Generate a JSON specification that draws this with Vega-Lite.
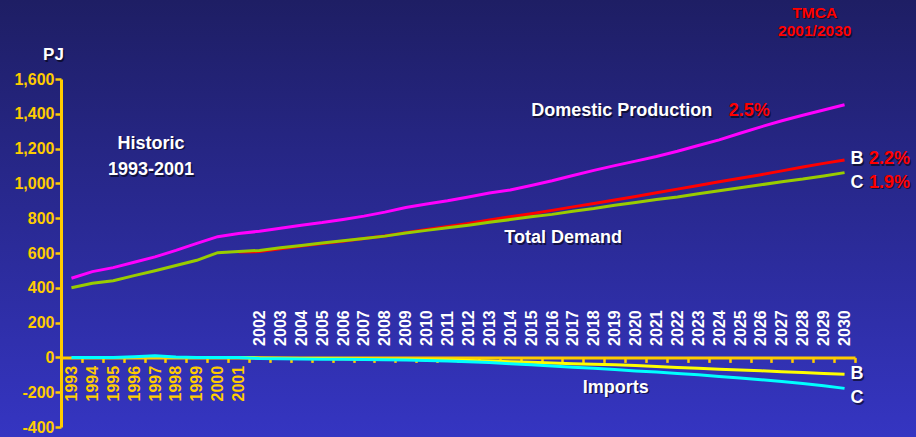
{
  "$schema": "https://vega.github.io/schema/vega-lite/v6.json",
  "width": 916,
  "height": 437,
  "autosize": "none",
  "padding": 0,
  "background": "#2a2a96",
  "config": {
    "view": {
      "stroke": null,
      "fill": {"gradient": "linear", "x1": 0, "y1": 0, "x2": 0, "y2": 1, "stops": [{"offset": 0, "color": "#1e1e64"}, {"offset": 1, "color": "#3535c2"}]}
    },
    "font": "Liberation Sans",
    "text": {"font": "Liberation Sans", "fontWeight": "bold", "baseline": "alphabetic"}
  },
  "datasets": {
    "series": [
      {"series": "Domestic", "year": 1993, "value": 455}, {"series": "Domestic", "year": 1994, "value": 493}, {"series": "Domestic", "year": 1995, "value": 516}, {"series": "Domestic", "year": 1996, "value": 547}, {"series": "Domestic", "year": 1997, "value": 578}, {"series": "Domestic", "year": 1998, "value": 615}, {"series": "Domestic", "year": 1999, "value": 655}, {"series": "Domestic", "year": 2000, "value": 694}, {"series": "Domestic", "year": 2001, "value": 712}, {"series": "Domestic", "year": 2002, "value": 725}, {"series": "Domestic", "year": 2003, "value": 742}, {"series": "Domestic", "year": 2004, "value": 760}, {"series": "Domestic", "year": 2005, "value": 775}, {"series": "Domestic", "year": 2006, "value": 793}, {"series": "Domestic", "year": 2007, "value": 812}, {"series": "Domestic", "year": 2008, "value": 835}, {"series": "Domestic", "year": 2009, "value": 862}, {"series": "Domestic", "year": 2010, "value": 882}, {"series": "Domestic", "year": 2011, "value": 900}, {"series": "Domestic", "year": 2012, "value": 922}, {"series": "Domestic", "year": 2013, "value": 945}, {"series": "Domestic", "year": 2014, "value": 962}, {"series": "Domestic", "year": 2015, "value": 988}, {"series": "Domestic", "year": 2016, "value": 1015}, {"series": "Domestic", "year": 2017, "value": 1045}, {"series": "Domestic", "year": 2018, "value": 1075}, {"series": "Domestic", "year": 2019, "value": 1102}, {"series": "Domestic", "year": 2020, "value": 1128}, {"series": "Domestic", "year": 2021, "value": 1155}, {"series": "Domestic", "year": 2022, "value": 1185}, {"series": "Domestic", "year": 2023, "value": 1218}, {"series": "Domestic", "year": 2024, "value": 1250}, {"series": "Domestic", "year": 2025, "value": 1288}, {"series": "Domestic", "year": 2026, "value": 1325}, {"series": "Domestic", "year": 2027, "value": 1360}, {"series": "Domestic", "year": 2028, "value": 1392}, {"series": "Domestic", "year": 2029, "value": 1422}, {"series": "Domestic", "year": 2030, "value": 1452},
      {"series": "Demand B", "year": 2001, "value": 606}, {"series": "Demand B", "year": 2002, "value": 608}, {"series": "Demand B", "year": 2003, "value": 625}, {"series": "Demand B", "year": 2004, "value": 640}, {"series": "Demand B", "year": 2005, "value": 655}, {"series": "Demand B", "year": 2006, "value": 668}, {"series": "Demand B", "year": 2007, "value": 683}, {"series": "Demand B", "year": 2008, "value": 698}, {"series": "Demand B", "year": 2009, "value": 717}, {"series": "Demand B", "year": 2010, "value": 735}, {"series": "Demand B", "year": 2011, "value": 752}, {"series": "Demand B", "year": 2012, "value": 770}, {"series": "Demand B", "year": 2013, "value": 790}, {"series": "Demand B", "year": 2014, "value": 808}, {"series": "Demand B", "year": 2015, "value": 826}, {"series": "Demand B", "year": 2016, "value": 845}, {"series": "Demand B", "year": 2017, "value": 865}, {"series": "Demand B", "year": 2018, "value": 885}, {"series": "Demand B", "year": 2019, "value": 905}, {"series": "Demand B", "year": 2020, "value": 925}, {"series": "Demand B", "year": 2021, "value": 946}, {"series": "Demand B", "year": 2022, "value": 967}, {"series": "Demand B", "year": 2023, "value": 988}, {"series": "Demand B", "year": 2024, "value": 1010}, {"series": "Demand B", "year": 2025, "value": 1030}, {"series": "Demand B", "year": 2026, "value": 1050}, {"series": "Demand B", "year": 2027, "value": 1072}, {"series": "Demand B", "year": 2028, "value": 1094}, {"series": "Demand B", "year": 2029, "value": 1115}, {"series": "Demand B", "year": 2030, "value": 1135},
      {"series": "Demand C", "year": 1993, "value": 400}, {"series": "Demand C", "year": 1994, "value": 426}, {"series": "Demand C", "year": 1995, "value": 441}, {"series": "Demand C", "year": 1996, "value": 470}, {"series": "Demand C", "year": 1997, "value": 498}, {"series": "Demand C", "year": 1998, "value": 528}, {"series": "Demand C", "year": 1999, "value": 558}, {"series": "Demand C", "year": 2000, "value": 602}, {"series": "Demand C", "year": 2001, "value": 608}, {"series": "Demand C", "year": 2002, "value": 615}, {"series": "Demand C", "year": 2003, "value": 630}, {"series": "Demand C", "year": 2004, "value": 643}, {"series": "Demand C", "year": 2005, "value": 657}, {"series": "Demand C", "year": 2006, "value": 670}, {"series": "Demand C", "year": 2007, "value": 683}, {"series": "Demand C", "year": 2008, "value": 697}, {"series": "Demand C", "year": 2009, "value": 715}, {"series": "Demand C", "year": 2010, "value": 730}, {"series": "Demand C", "year": 2011, "value": 745}, {"series": "Demand C", "year": 2012, "value": 760}, {"series": "Demand C", "year": 2013, "value": 777}, {"series": "Demand C", "year": 2014, "value": 792}, {"series": "Demand C", "year": 2015, "value": 808}, {"series": "Demand C", "year": 2016, "value": 822}, {"series": "Demand C", "year": 2017, "value": 840}, {"series": "Demand C", "year": 2018, "value": 856}, {"series": "Demand C", "year": 2019, "value": 875}, {"series": "Demand C", "year": 2020, "value": 890}, {"series": "Demand C", "year": 2021, "value": 907}, {"series": "Demand C", "year": 2022, "value": 922}, {"series": "Demand C", "year": 2023, "value": 940}, {"series": "Demand C", "year": 2024, "value": 958}, {"series": "Demand C", "year": 2025, "value": 975}, {"series": "Demand C", "year": 2026, "value": 992}, {"series": "Demand C", "year": 2027, "value": 1010}, {"series": "Demand C", "year": 2028, "value": 1025}, {"series": "Demand C", "year": 2029, "value": 1043}, {"series": "Demand C", "year": 2030, "value": 1062},
      {"series": "Imports B", "year": 2001, "value": 0}, {"series": "Imports B", "year": 2002, "value": -3}, {"series": "Imports B", "year": 2003, "value": -5}, {"series": "Imports B", "year": 2004, "value": -6}, {"series": "Imports B", "year": 2005, "value": -7}, {"series": "Imports B", "year": 2006, "value": -8}, {"series": "Imports B", "year": 2007, "value": -9}, {"series": "Imports B", "year": 2008, "value": -10}, {"series": "Imports B", "year": 2009, "value": -11}, {"series": "Imports B", "year": 2010, "value": -13}, {"series": "Imports B", "year": 2011, "value": -15}, {"series": "Imports B", "year": 2012, "value": -18}, {"series": "Imports B", "year": 2013, "value": -21}, {"series": "Imports B", "year": 2014, "value": -25}, {"series": "Imports B", "year": 2015, "value": -28}, {"series": "Imports B", "year": 2016, "value": -32}, {"series": "Imports B", "year": 2017, "value": -36}, {"series": "Imports B", "year": 2018, "value": -39}, {"series": "Imports B", "year": 2019, "value": -42}, {"series": "Imports B", "year": 2020, "value": -47}, {"series": "Imports B", "year": 2021, "value": -53}, {"series": "Imports B", "year": 2022, "value": -58}, {"series": "Imports B", "year": 2023, "value": -63}, {"series": "Imports B", "year": 2024, "value": -68}, {"series": "Imports B", "year": 2025, "value": -72}, {"series": "Imports B", "year": 2026, "value": -77}, {"series": "Imports B", "year": 2027, "value": -82}, {"series": "Imports B", "year": 2028, "value": -87}, {"series": "Imports B", "year": 2029, "value": -92}, {"series": "Imports B", "year": 2030, "value": -97},
      {"series": "Imports C", "year": 1993, "value": 0}, {"series": "Imports C", "year": 1994, "value": 0}, {"series": "Imports C", "year": 1995, "value": 0}, {"series": "Imports C", "year": 1996, "value": 4}, {"series": "Imports C", "year": 1997, "value": 9}, {"series": "Imports C", "year": 1998, "value": 3}, {"series": "Imports C", "year": 1999, "value": 0}, {"series": "Imports C", "year": 2000, "value": 0}, {"series": "Imports C", "year": 2001, "value": 0}, {"series": "Imports C", "year": 2002, "value": -6}, {"series": "Imports C", "year": 2003, "value": -8}, {"series": "Imports C", "year": 2004, "value": -9}, {"series": "Imports C", "year": 2005, "value": -10}, {"series": "Imports C", "year": 2006, "value": -11}, {"series": "Imports C", "year": 2007, "value": -12}, {"series": "Imports C", "year": 2008, "value": -13}, {"series": "Imports C", "year": 2009, "value": -15}, {"series": "Imports C", "year": 2010, "value": -18}, {"series": "Imports C", "year": 2011, "value": -21}, {"series": "Imports C", "year": 2012, "value": -25}, {"series": "Imports C", "year": 2013, "value": -30}, {"series": "Imports C", "year": 2014, "value": -36}, {"series": "Imports C", "year": 2015, "value": -42}, {"series": "Imports C", "year": 2016, "value": -50}, {"series": "Imports C", "year": 2017, "value": -57}, {"series": "Imports C", "year": 2018, "value": -63}, {"series": "Imports C", "year": 2019, "value": -70}, {"series": "Imports C", "year": 2020, "value": -78}, {"series": "Imports C", "year": 2021, "value": -84}, {"series": "Imports C", "year": 2022, "value": -92}, {"series": "Imports C", "year": 2023, "value": -100}, {"series": "Imports C", "year": 2024, "value": -110}, {"series": "Imports C", "year": 2025, "value": -118}, {"series": "Imports C", "year": 2026, "value": -128}, {"series": "Imports C", "year": 2027, "value": -138}, {"series": "Imports C", "year": 2028, "value": -150}, {"series": "Imports C", "year": 2029, "value": -163}, {"series": "Imports C", "year": 2030, "value": -178}
    ],
    "notes": [
      {"id": "pj", "text": "PJ", "year": 1993, "value": 1709},
      {"id": "hist1", "text": "Historic", "year": 1997, "value": 1200},
      {"id": "hist2", "text": "1993-2001", "year": 1997, "value": 1048},
      {"id": "dom", "text": "Domestic Production", "year": 2015, "value": 1386},
      {"id": "domr", "text": "2.5%", "year": 2024, "value": 1386},
      {"id": "tot", "text": "Total Demand", "year": 2014, "value": 656},
      {"id": "b1", "text": "B", "year": 2030, "value": 1110},
      {"id": "b1r", "text": "2.2%", "year": 2030, "value": 1110},
      {"id": "c1", "text": "C", "year": 2030, "value": 976},
      {"id": "c1r", "text": "1.9%", "year": 2030, "value": 976},
      {"id": "tm1", "text": "TMCA", "year": 2028, "value": 1952},
      {"id": "tm2", "text": "2001/2030", "year": 2028, "value": 1846},
      {"id": "imp", "text": "Imports", "year": 2018, "value": -203},
      {"id": "b2", "text": "B", "year": 2030, "value": -126},
      {"id": "c2", "text": "C", "year": 2030, "value": -264}
    ]
  },
  "encoding": {
    "x": {
      "field": "year", "type": "ordinal",
      "scale": {"type": "band", "domain": [1993,1994,1995,1996,1997,1998,1999,2000,2001,2002,2003,2004,2005,2006,2007,2008,2009,2010,2011,2012,2013,2014,2015,2016,2017,2018,2019,2020,2021,2022,2023,2024,2025,2026,2027,2028,2029,2030], "range": [61, 855], "paddingInner": 0, "paddingOuter": 0},
      "axis": {
        "title": null, "offset": -79.6, "labelAngle": -90,
        "labelFont": "Liberation Sans", "labelFontWeight": "bold", "labelFontSize": 16,
        "labelColor": {"condition": {"test": "datum.value <= 2001", "value": "#FFCC00"}, "value": "#FFFFFF"},
        "labelAlign": {"condition": {"test": "datum.value <= 2001", "value": "right"}, "value": "left"},
        "labelPadding": {"condition": {"test": "datum.value <= 2001", "value": 3}, "value": -17},
        "labelBaseline": "middle", "labelOverlap": false, "labelBound": false, "labelFlush": false,
        "tickBand": "extent", "tickColor": "#FFCC00", "tickWidth": 2.5, "tickSize": 5,
        "domainColor": "#FFCC00", "domainWidth": 3, "grid": false
      }
    },
    "y": {
      "field": "value", "type": "quantitative",
      "scale": {"domain": [-400, 1600], "range": [427, 79], "nice": false, "zero": false},
      "axis": {
        "title": null, "offset": -61, "values": [-400,-200,0,200,400,600,800,1000,1200,1400,1600],
        "labelExpr": "replace(format(datum.value, ',.0f'), '\u2212', '-')",
        "labelFont": "Liberation Sans", "labelFontWeight": "bold", "labelFontSize": 16, "labelColor": "#FFCC00", "labelPadding": 1,
        "tickColor": "#FFCC00", "tickWidth": 2.5, "tickSize": 6,
        "domainColor": "#FFCC00", "domainWidth": 3, "grid": false
      }
    }
  },
  "layer": [
    {
      "mark": {"type": "rule", "color": "#D9A21E", "strokeWidth": 1},
      "encoding": {"x": {"datum": 2001}, "y": {"datum": 0}, "y2": {"datum": 1612}}
    },
    {
      "data": {"name": "series"},
      "mark": {"type": "line", "strokeWidth": 3},
      "encoding": {
        "color": {"field": "series", "type": "nominal", "legend": null,
          "scale": {"domain": ["Domestic", "Demand B", "Demand C", "Imports B", "Imports C"], "range": ["#FF00FF", "#FF0000", "#99CC00", "#FFFF00", "#00FFFF"]}}
      }
    },
    {"data": {"name": "notes"}, "transform": [{"filter": "datum.id == 'pj'"}], "encoding": {"text": {"field": "text"}}, "layer": [
      {"mark": {"type": "text", "align": "center", "dx": -16.5, "dy": 1.5, "fontSize": 17, "color": "#000000", "opacity": 0.55}},
      {"mark": {"type": "text", "align": "center", "dx": -18, "fontSize": 17, "color": "#FFFFFF"}}]},
    {"data": {"name": "notes"}, "transform": [{"filter": "datum.id == 'hist1' || datum.id == 'hist2'"}], "encoding": {"text": {"field": "text"}}, "layer": [
      {"mark": {"type": "text", "align": "center", "dx": -2.5, "dy": 1.5, "fontSize": 18, "color": "#000000", "opacity": 0.55}},
      {"mark": {"type": "text", "align": "center", "dx": -4, "fontSize": 18, "color": "#FFFFFF"}}]},
    {"data": {"name": "notes"}, "transform": [{"filter": "datum.id == 'dom'"}], "encoding": {"text": {"field": "text"}}, "layer": [
      {"mark": {"type": "text", "align": "left", "dx": 1.5, "dy": 1.5, "fontSize": 18, "color": "#000000", "opacity": 0.55}},
      {"mark": {"type": "text", "align": "left", "dx": 0, "fontSize": 18, "color": "#FFFFFF"}}]},
    {"data": {"name": "notes"}, "transform": [{"filter": "datum.id == 'domr'"}], "encoding": {"text": {"field": "text"}}, "layer": [
      {"mark": {"type": "text", "align": "left", "dx": 11, "dy": 1.5, "fontSize": 18, "color": "#000000", "opacity": 0.55}},
      {"mark": {"type": "text", "align": "left", "dx": 9.5, "fontSize": 18, "color": "#FF0000"}}]},
    {"data": {"name": "notes"}, "transform": [{"filter": "datum.id == 'tot'"}], "encoding": {"text": {"field": "text"}}, "layer": [
      {"mark": {"type": "text", "align": "left", "dx": -4.5, "dy": 1.5, "fontSize": 18, "color": "#000000", "opacity": 0.55}},
      {"mark": {"type": "text", "align": "left", "dx": -6, "fontSize": 18, "color": "#FFFFFF"}}]},
    {"data": {"name": "notes"}, "transform": [{"filter": "datum.id == 'imp'"}], "encoding": {"text": {"field": "text"}}, "layer": [
      {"mark": {"type": "text", "align": "left", "dx": -9.5, "dy": 1.5, "fontSize": 18, "color": "#000000", "opacity": 0.55}},
      {"mark": {"type": "text", "align": "left", "dx": -11, "fontSize": 18, "color": "#FFFFFF"}}]},
    {"data": {"name": "notes"}, "transform": [{"filter": "indexof(['b1','c1','b2','c2'], datum.id) >= 0"}], "encoding": {"text": {"field": "text"}}, "layer": [
      {"mark": {"type": "text", "align": "left", "dx": 7.5, "dy": 1.5, "fontSize": 18, "color": "#000000", "opacity": 0.55}},
      {"mark": {"type": "text", "align": "left", "dx": 6, "fontSize": 18, "color": "#FFFFFF"}}]},
    {"data": {"name": "notes"}, "transform": [{"filter": "datum.id == 'b1r' || datum.id == 'c1r'"}], "encoding": {"text": {"field": "text"}}, "layer": [
      {"mark": {"type": "text", "align": "left", "dx": 26, "dy": 1.5, "fontSize": 18, "color": "#000000", "opacity": 0.55}},
      {"mark": {"type": "text", "align": "left", "dx": 24.5, "fontSize": 18, "color": "#FF0000"}}]},
    {"data": {"name": "notes"}, "transform": [{"filter": "datum.id == 'tm1' || datum.id == 'tm2'"}], "encoding": {"text": {"field": "text"}}, "layer": [
      {"mark": {"type": "text", "align": "center", "dx": 13.5, "dy": 1.5, "fontSize": 15.5, "color": "#000000", "opacity": 0.55}},
      {"mark": {"type": "text", "align": "center", "dx": 12, "fontSize": 15.5, "color": "#FF0000"}}]}
  ]
}
